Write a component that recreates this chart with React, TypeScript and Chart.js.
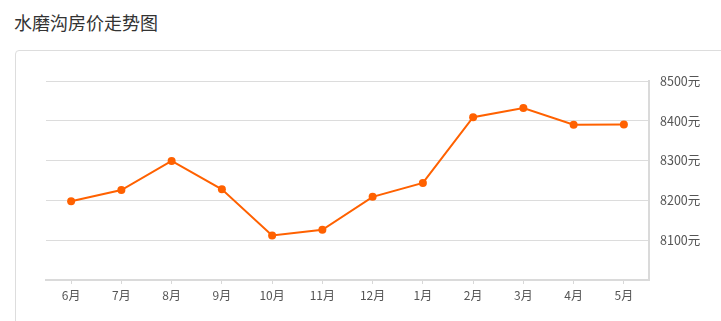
import React, { useEffect, useRef } from "react";
import { Chart, registerables } from "chart.js";

Chart.register(...registerables);

const months = ["6月", "7月", "8月", "9月", "10月", "11月", "12月", "1月", "2月", "3月", "4月", "5月"];
const prices = [8198, 8226, 8299, 8228, 8112, 8126, 8209, 8244, 8409, 8432, 8390, 8391];
const yTicks = [8000, 8100, 8200, 8300, 8400, 8500];

const FONT = "'Noto Sans CJK SC', 'Noto Sans', sans-serif";

export default function App() {
  const ref = useRef<HTMLCanvasElement>(null);

  useEffect(() => {
    document.body.style.margin = "0";
    const ctx = ref.current!;
    const chart = new Chart(ctx, {
      type: "line",
      data: {
        labels: months,
        datasets: [
          {
            data: prices,
            borderColor: "#ff6100",
            backgroundColor: "#ff6100",
            borderWidth: 2,
            pointRadius: 4,
            pointHoverRadius: 4,
            pointBorderWidth: 0,
            tension: 0,
          },
        ],
      },
      options: {
        animation: false,
        responsive: false,
        maintainAspectRatio: false,
        layout: { padding: { left: 46, top: 81, right: 12, bottom: 11 } },
        plugins: { legend: { display: false }, tooltip: { enabled: false } },
        scales: {
          x: {
            offset: true,
            grid: {
              offset: false,
              drawOnChartArea: false,
              drawTicks: true,
              tickLength: 4,
              color: "#d8d8d8",
            },
            border: { display: true, color: "#dadada", width: 2 },
            ticks: { color: "#555", font: { family: FONT, size: 12 }, padding: 4, maxRotation: 0, autoSkip: false },
            afterFit: (s: any) => {
              s.height = 30;
            },
          },
          y: {
            position: "right",
            min: yTicks[0],
            max: yTicks[yTicks.length - 1],
            afterBuildTicks: (s: any) => {
              s.ticks = yTicks.map((v) => ({ value: v }));
            },
            grid: { color: "#dcdcdc", lineWidth: 1, drawTicks: false, tickLength: 0 },
            border: { display: true, color: "#dadada", width: 2 },
            ticks: {
              color: "#555",
              font: { family: FONT, size: 12.5 },
              padding: 11,
              callback: (v: any) => (Number(v) === yTicks[0] ? "" : v + "元"),
            },
            afterFit: (s: any) => {
              s.width = 60;
            },
          },
        },
      },
    });
    return () => chart.destroy();
  }, []);

  return (
    <div style={{ position: "relative", width: 721, height: 321, overflow: "hidden", background: "#fff" }}>
      <div
        style={{
          position: "absolute",
          left: 14,
          top: 9,
          fontSize: 18,
          lineHeight: "26px",
          color: "#333",
          fontFamily: FONT,
        }}
      >
        水磨沟房价走势图
      </div>
      <div
        style={{
          position: "absolute",
          left: 15,
          top: 50,
          width: 760,
          height: 320,
          border: "1px solid #dddddd",
          borderRadius: 4,
          boxSizing: "border-box",
        }}
      />
      <canvas
        ref={ref}
        width={721}
        height={321}
        style={{ position: "absolute", left: 0, top: 0, width: 721, height: 321 }}
      />
    </div>
  );
}
